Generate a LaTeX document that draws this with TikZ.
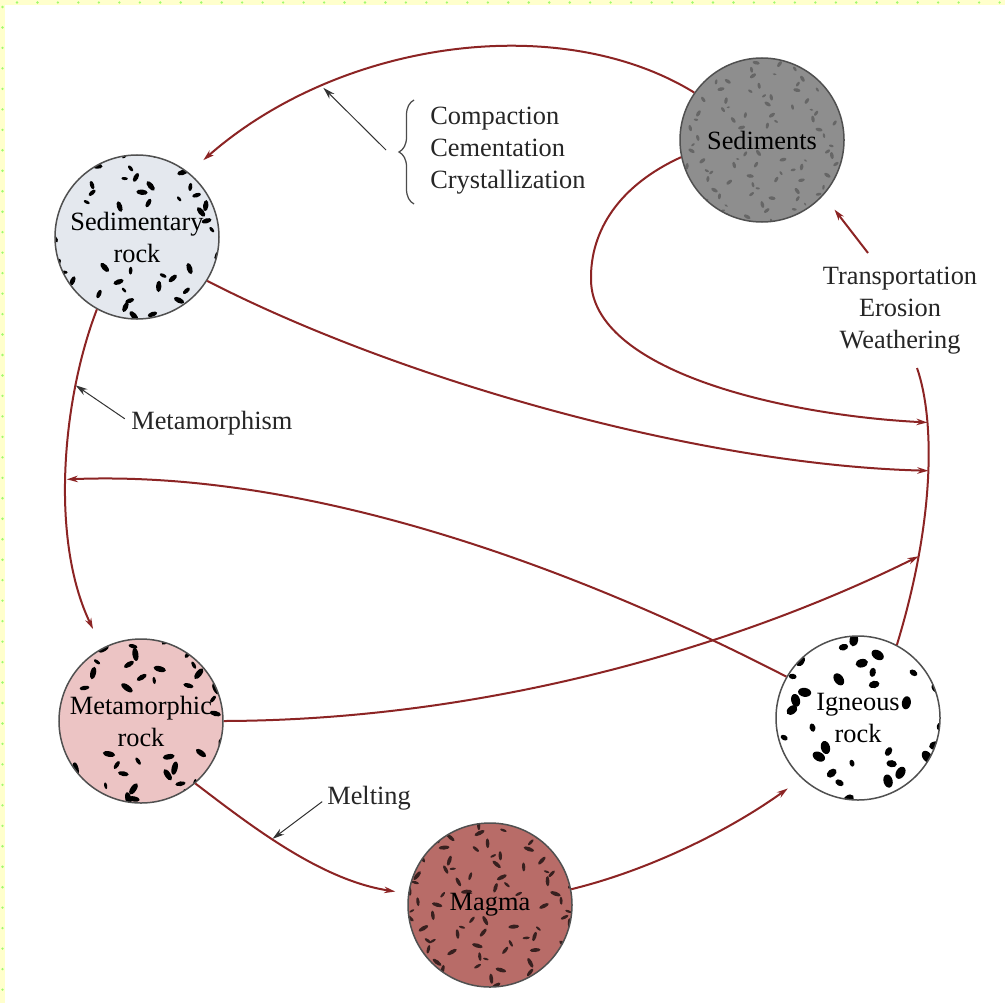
\documentclass[tikz,border=0pt]{standalone}
\usepackage{fontspec}
\setmainfont{Liberation Serif}
\usetikzlibrary{arrows.meta,decorations.pathreplacing}
\definecolor{cyclered}{RGB}{140,36,36}
\definecolor{rim}{RGB}{80,80,80}
\definecolor{sedgray}{RGB}{142,142,142}
\definecolor{sedrock}{RGB}{228,232,238}
\definecolor{metapink}{RGB}{236,196,196}
\definecolor{magmared}{RGB}{184,108,104}
\definecolor{edgeyellow}{RGB}{255,255,204}
\definecolor{edgedot}{RGB}{160,250,110}
\newcommand{\cyclefont}{\fontsize{15}{18.2}\selectfont}
\newcommand{\rockgrains}[9]{%
  \fill[#2] #1 circle (82);
  \begin{scope}
  \clip #1 circle (82);
  \foreach \i in {-6,...,6}{
    \foreach \j in {-6,...,6}{
      \pgfmathsetmacro\gx{#3*(\i+0.4*sin(\i*127+\j*311+#7))}
      \pgfmathsetmacro\gy{#3*(\j+0.4*cos(\i*211+\j*97+#7))}
      \pgfmathtruncatemacro\gskip{and(abs(\gx)<#8, abs(\gy)<#9)}
      \ifnum\gskip=0
        \pgfmathsetmacro\ga{mod(\i*67+\j*113+#7+1440,180)}
        \pgfmathsetmacro\gs{0.6+0.6*abs(sin(\i*37+\j*59+#7))}
        \pgfmathsetmacro\ra{#5*\gs}
        \pgfmathsetmacro\rb{#6*\gs}
        \fill[#4, shift={#1}, shift={(\gx,\gy)}, rotate=\ga] (0,0) ellipse [x radius=\ra, y radius=\rb];
      \fi
    }}
  \end{scope}}
\tikzset{
  rock/.style={circle, draw=rim, line width=0.3mm, minimum size=32.8mm, inner sep=0pt, align=center, font=\cyclefont},
  cycleline/.style={draw=cyclered, line width=0.4mm},
  flow/.style={cycleline, -{Stealth[length=2.2mm,width=1.3mm]}},
  pointer/.style={draw=black!80, line width=0.2mm, -{Stealth[length=2.4mm,width=1.4mm]}},
  note/.style={inner sep=0pt, font=\cyclefont, text=black!85},
  bracket/.style={draw=black!70, line width=0.25mm, decorate, decoration={brace, amplitude=3mm}}
}

\begin{document}
\begin{tikzpicture}[x=0.2mm,y=-0.2mm]
\useasboundingbox (0,0) rectangle (1005,1003);
\fill[white] (0,0) rectangle (1005,1003);
\fill[edgeyellow] (0,0) rectangle (1005,5);
\fill[edgeyellow] (0,0) rectangle (5,1003);
\foreach \d in {0,...,48} \fill[edgedot] (17+20.47*\d,2.5) circle (1.3);
\foreach \d in {0,...,48} \fill[edgedot] (2.5,7+20.47*\d) circle (1.3);

\rockgrains{(762,140)}{sedgray}{15}{black!60}{3}{1.5}{13}{55}{11}
\rockgrains{(137,237)}{sedrock}{19}{black}{4.8}{2.3}{41}{64}{28}
\rockgrains{(141,721)}{metapink}{20}{black}{5.6}{2.5}{77}{72}{28}
\rockgrains{(490,905)}{magmared}{17}{black!70!magmared}{4.6}{1.7}{5}{44}{11}
\rockgrains{(858,718)}{white}{24}{black}{5.6}{3.8}{59}{42}{28}
\node[rock] (sedm) at (762,140) {Sediments};
\node[rock] (sedr) at (137,237) {Sedimentary\\rock};
\node[rock] (meta) at (141,721) {Metamorphic\\rock};
\node[rock] (mag) at (490,905) {Magma};
\node[rock] (ign) at (858,718) {Igneous\\rock};

\coordinate (wtop) at (917,368);
\draw[cycleline] (ign.62) .. controls (935,520) and (935,420) .. (wtop) coordinate[pos=0.25] (a3) coordinate[pos=0.53] (a2) coordinate[pos=0.72] (a1);
\draw[flow, shorten >=4.2mm] (sedr.241) .. controls (62,400) and (50,540) .. (meta.118) coordinate[pos=0.25] (mpt) coordinate[pos=0.52] (b1);
\draw[flow, shorten >=3.8mm] (sedm.145) .. controls (560,10) and (340,40) .. (sedr.51) coordinate[pos=0.73] (cpt);
\draw[flow] (sedm.192) .. controls (620,185) and (590,230) .. (591,280) .. controls (592,370) and (780,415) .. (a1);
\draw[flow] (sedr.-32) .. controls (400,380) and (700,465) .. (a2);
\draw[flow] (meta.0) .. controls (500,720) and (750,640) .. (a3);
\draw[flow] (ign.150) .. controls (560,560) and (300,470) .. (b1);
\draw[flow, shorten >=2.6mm] (meta.-49) .. controls (250,825) and (320,880) .. (mag.172) coordinate[pos=0.42] (mlt);
\draw[flow, shorten >=3.4mm] (mag.11) .. controls (650,870) and (730,830) .. (ign.227);
\coordinate (tstart) at (868,253);
\draw[flow, shorten >=3.6mm] (tstart) -- (sedm.-42);

\node[note, anchor=west, align=left] (cct) at (430,151) {Compaction\\Cementation\\Crystallization};
\draw[bracket] (414,204) -- (414,100);
\coordinate (btip) at (386,150);
\draw[pointer] (btip) -- (cpt);
\node[note, align=center] (tew) at (900,311) {Transportation\\Erosion\\Weathering};
\node[note, anchor=west] (mtm) at (131,423) {Metamorphism};
\draw[pointer, shorten <=1.5mm] (mtm.west) -- (mpt);
\node[note, anchor=west] (mlg) at (327,798) {Melting};
\draw[pointer, shorten <=1.2mm] (mlg.west) -- (mlt);
\end{tikzpicture}
\end{document}
